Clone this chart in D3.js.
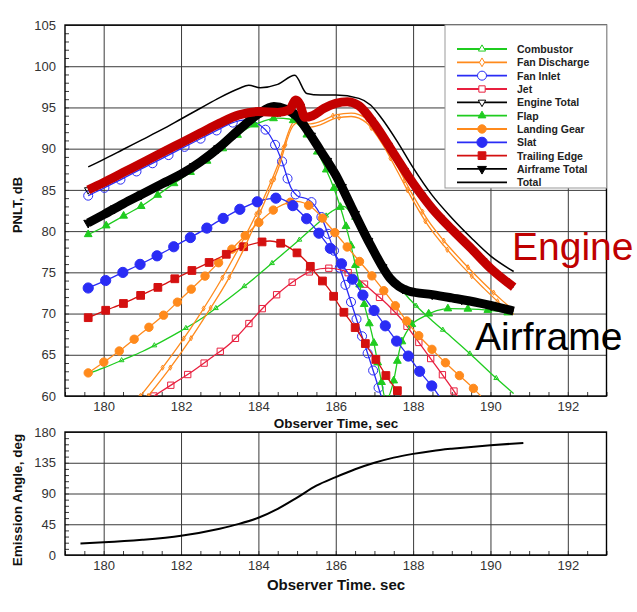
<!DOCTYPE html>
<html>
<head>
<meta charset="utf-8">
<script src="https://cdn.jsdelivr.net/npm/d3@7"></script>
<style>
  body { margin: 0; background: #fff; }
  svg { display: block; font-family: "Liberation Sans", Arial, Helvetica, sans-serif; }
</style>
</head>
<body>
<svg id="chart" width="637" height="612"></svg>
<script>
// [observer time (sec), PNLT (dB)]
const combustor = [[179.6,62.7],[180,63.4],[180.5,64.4],[181,65.4],[181.5,66.6],[182,67.9],[182.5,69.3],[183,71],[183.5,72.8],[184,74.7],[184.5,76.7],[185,78.7],[185.5,80.8],[185.9,82.4],[186.2,83],[186.5,81.4],[186.8,79],[187.3,75.3],[187.9,71.8],[188.5,69.1],[189,67.1],[189.5,65],[190,62.8],[190.6,60.3]];
const fanDischarge = [[180.95,60],[181.5,63.3],[182,66.5],[182.5,70],[183,73.8],[183.5,78],[184,82.6],[184.5,88],[184.9,93.2],[185.1,93.7],[185.3,93],[185.6,93.3],[186,94.1],[186.4,94.3],[186.8,93.6],[187.2,91.2],[187.6,87.8],[188,84.3],[188.4,81.2],[188.8,78.8],[189.3,76.2],[189.8,73.8],[190.3,71.6],[190.6,70.4]];
const fanDischarge2 = [[181.15,60],[181.7,63.3],[182.2,66.6],[182.7,70.2],[183.2,74],[183.6,77.6],[184,81.8],[184.5,87.4],[184.9,92.8],[185.1,93.3],[185.3,92.6],[185.6,92.9],[186,93.7],[186.4,93.9],[186.8,93.1],[187.2,90.6],[187.6,87.2],[188,83.7],[188.4,80.6],[188.8,78.2],[189.3,75.6],[189.8,73.2],[190.3,71],[190.6,69.9]];
const fanInlet = [[179.6,84.3],[180,85.2],[180.5,86.4],[181,87.6],[181.5,88.8],[182,90],[182.5,91.2],[183,92.4],[183.3,93.1],[183.7,93.5],[184,93],[184.3,91.6],[184.6,88.6],[184.85,85.2],[185,84.3],[185.3,83.8],[185.6,82],[185.85,79],[186.2,74.2],[186.6,68.4],[187,62.6],[187.2,59.6]];
const jet = [[181.3,60],[181.8,61.5],[182.3,63],[182.8,64.7],[183.3,66.5],[183.7,68.5],[184,70.1],[184.5,72.4],[185,74.2],[185.4,75.2],[185.8,75.5],[186.2,75.2],[186.6,74.1],[187,72.5],[187.4,70.8],[187.7,69.3],[188.1,66.8],[188.6,63.6],[189.1,60.3],[189.2,59.6]];
const engineTotal = [[179.6,85],[180,85.9],[180.5,87.1],[181,88.3],[181.5,89.5],[182,90.7],[182.5,91.9],[183,93.1],[183.5,94.1],[184,94.5],[184.5,94.4],[184.8,94.7],[184.97,95.9],[185.07,95.4],[185.2,93.8],[185.4,94],[185.7,94.9],[186,95.5],[186.3,95.7],[186.6,95.2],[187,93],[187.5,89.4],[188,85.8],[188.5,82.7],[189,80.2],[189.5,77.9],[190,75.5],[190.6,73.2]];
const flap = [[179.6,79.6],[180,80.5],[180.5,81.8],[181,83.1],[181.7,85.4],[182.2,87],[182.7,88.6],[183.2,90.5],[183.5,91.8],[184,93.1],[184.5,93.7],[184.8,93.6],[185.1,92.6],[185.4,90.6],[185.7,88],[186,84.6],[186.36,78.9],[186.7,71.8],[186.97,66.8],[187.15,62.5],[187.3,59.5],[187.48,61.5],[187.66,65.8],[187.92,68.4],[188.26,69.6],[188.95,70.6],[189.7,70.5],[190.6,70]];
const landingGear = [[179.6,62.8],[180,64.1],[180.5,65.8],[181,67.7],[181.5,69.6],[182,71.8],[182.5,74],[183,76.3],[183.5,78.7],[184,81],[184.5,82.9],[185,83.6],[185.4,82.8],[185.85,80.5],[186.2,78.6],[186.6,76.4],[187,74.2],[187.5,71.2],[188,68.1],[188.5,65.6],[189,63.3],[189.5,61.2],[189.75,60]];
const slat = [[179.6,73.1],[180,73.9],[180.5,75],[181,76.1],[181.5,77.3],[182,78.6],[182.5,79.9],[183,81.3],[183.5,82.6],[184,83.6],[184.5,84],[184.8,83.4],[185.1,82.2],[185.4,80.7],[185.75,78.6],[186.2,75.7],[186.5,73.7],[186.75,71.9],[187.05,70],[187.55,66.8],[187.9,64.7],[188.2,62.8],[188.55,60.8],[188.7,59.8]];
const trailingEdge = [[179.6,69.5],[180,70.3],[180.5,71.2],[181,72.3],[181.5,73.4],[182,74.6],[182.5,75.7],[183,76.8],[183.5,77.9],[184,78.6],[184.3,78.8],[184.8,78],[185.2,76.5],[185.5,74.8],[185.85,72.8],[186.1,70.9],[186.36,69.2],[186.62,67.5],[186.85,65.7],[187.1,64],[187.35,62.1],[187.66,60.2],[187.75,59.5]];
const airframeTotal = [[179.6,81],[180,82],[180.5,83.3],[181,84.5],[181.5,85.7],[182,86.9],[182.5,88.4],[183,90.2],[183.5,92.3],[184,94.2],[184.4,95.1],[184.7,94.8],[185,93.9],[185.3,92],[185.6,89.8],[186,86.8],[186.4,83],[186.9,78.3],[187.4,74.3],[187.9,72.7],[188.5,72.3],[189,71.9],[189.7,71.3],[190.6,70.3]];
const total = [[179.6,87.8],[180,88.7],[180.5,89.9],[181,91.1],[181.5,92.3],[182,93.6],[182.5,94.9],[183,96.2],[183.5,97.3],[183.75,97.7],[184.05,97.4],[184.5,97.8],[184.94,98.9],[185.25,96.7],[185.6,96.5],[186,96.5],[186.6,96.1],[186.9,95.3],[187.2,93.6],[187.6,90.8],[188,87.7],[188.5,84.3],[189,81.6],[189.5,79.2],[190,77],[190.6,75.1]];

// [observer time (sec), emission angle (deg)]
const emission = [[179.4,17],[180,18.5],[181,22.3],[182,28.2],[183,38.5],[183.5,45.5],[184,54.5],[184.5,67.5],[185,84],[185.5,101.5],[186,114],[186.5,125.5],[187,135],[187.5,142.5],[188,148],[188.5,152.3],[189,155.5],[189.5,158.2],[190,160.6],[190.85,164]];

const timeTicks = [180, 182, 184, 186, 188, 190, 192];
const pnltTicks = [60, 65, 70, 75, 80, 85, 90, 95, 100, 105];
const angleTicks = [0, 45, 90, 135, 180];

const GREEN = "#1fcc1f", ORANGE = "#ff8a1c", BLUE = "#2a2cf5", JETRED = "#e8203f";

const series = [
  { name: "Combustor",      data: combustor,     color: GREEN,  sym: d3.symbolTriangle, size: 10, fill: false, step: 36 },
  { name: "Fan Discharge",  data: fanDischarge,  color: ORANGE, sym: d3.symbolDiamond,  size: 8,  fill: false, step: 36 },
  { name: "Fan Inlet",      data: fanInlet,      color: BLUE,   sym: d3.symbolCircle,   size: 64, fill: false, step: 18 },
  { name: "Jet",            data: jet,           color: JETRED, sym: d3.symbolSquare,   size: 40, fill: false, step: 20 },
  { name: "Engine Total",   data: engineTotal,   color: "#000", sym: d3.symbolTriangle, size: 24, fill: false, step: 30, down: true },
  { name: "Flap",           data: flap,          color: GREEN,  sym: d3.symbolTriangle, size: 26, fill: true,  step: 20 },
  { name: "Landing Gear",   data: landingGear,   color: ORANGE, sym: d3.symbolCircle,   size: 55, fill: true,  step: 19 },
  { name: "Slat",           data: slat,          color: BLUE,   sym: d3.symbolCircle,   size: 82, fill: true,  step: 19 },
  { name: "Trailing Edge",  data: trailingEdge,  color: "#d41010", sym: d3.symbolSquare, size: 60, fill: true,  step: 19 },
  { name: "Airframe Total", data: airframeTotal, color: "#000", sym: d3.symbolTriangle, size: 34, fill: true,  step: 30, down: true },
  { name: "Total",          data: total,         color: "#000", sym: null }
];

const svg = d3.select("#chart");
const L = 65, R = 606.5;
const top1 = 25, bot1 = 396, top2 = 432, bot2 = 555;

const x = d3.scaleLinear().domain([179, 193]).range([L, R]);
const y1 = d3.scaleLinear().domain([60, 105]).range([bot1, top1]);
const y2 = d3.scaleLinear().domain([0, 180]).range([bot2, top2]);

function drawAxes(y, top, bot, yTicks, yMinorStep) {
  const g = svg.append("g");
  g.append("g").attr("transform", `translate(${L},0)`)
    .call(d3.axisLeft(y).tickValues(d3.range(y.domain()[0], y.domain()[1] + 0.01, yMinorStep)).tickSize(-4).tickFormat(""));
  g.append("g").attr("transform", `translate(0,${bot})`)
    .call(d3.axisBottom(x).tickValues(d3.range(179, 193.01, 0.5)).tickSize(-4).tickFormat(""));
  g.append("g").attr("transform", `translate(${L},0)`)
    .call(d3.axisLeft(y).tickValues(yTicks).tickSize(-(R - L)).tickPadding(9));
  g.append("g").attr("transform", `translate(0,${bot})`)
    .call(d3.axisBottom(x).tickValues(timeTicks).tickSize(-(bot - top)).tickPadding(6));
  g.selectAll(".domain").remove();
  g.selectAll(".tick line").attr("stroke", "#3a3a3a").attr("stroke-width", 1);
  g.selectAll(".tick text").attr("font-size", 13).attr("fill", "#333");
  svg.append("rect").attr("x", L).attr("y", top).attr("width", R - L).attr("height", bot - top)
    .attr("fill", "none").attr("stroke", "#000").attr("stroke-width", 1.4);
}

drawAxes(y1, top1, bot1, pnltTicks, 1);
drawAxes(y2, top2, bot2, angleTicks, 9);

svg.append("clipPath").attr("id", "clip1").append("rect")
  .attr("x", L).attr("y", top1).attr("width", R - L).attr("height", bot1 - top1);

const line1 = d3.line().x(d => x(d[0])).y(d => y1(d[1])).curve(d3.curveMonotoneX);
const plot = svg.append("g").attr("clip-path", "url(#clip1)");

function symbolPath(s) {
  return d3.symbol().type(s.sym).size(s.size)();
}

function drawSeries(s, data) {
  const path = plot.append("path").datum(data)
    .attr("fill", "none").attr("stroke", s.color).attr("stroke-width", 1.3)
    .attr("d", line1);
  if (!s.sym) return;
  const node = path.node();
  const len = node.getTotalLength();
  const pts = d3.range(0, len, s.step).map(l => node.getPointAtLength(l));
  plot.append("g").selectAll("path").data(pts).join("path")
    .attr("d", symbolPath(s))
    .attr("transform", p => `translate(${p.x},${p.y})${s.down ? " rotate(180)" : ""}`)
    .attr("fill", s.fill ? s.color : "none")
    .attr("stroke", s.color).attr("stroke-width", 1);
}

series.slice(0, 10).forEach(s => drawSeries(s, s.data));
drawSeries(series[1], fanDischarge2);

// highlighted totals
plot.append("path").datum(airframeTotal)
  .attr("fill", "none").attr("stroke", "#000").attr("stroke-width", 9).attr("d", line1);
plot.append("path").datum(engineTotal)
  .attr("fill", "none").attr("stroke", "#c40000").attr("stroke-width", 9).attr("d", line1);
plot.append("path").datum(total)
  .attr("fill", "none").attr("stroke", "#000").attr("stroke-width", 1.5).attr("d", line1);

// emission angle
const line2 = d3.line().x(d => x(d[0])).y(d => y2(d[1])).curve(d3.curveMonotoneX);
svg.append("path").datum(emission)
  .attr("fill", "none").attr("stroke", "#000").attr("stroke-width", 2).attr("d", line2);

// legend
const leg = svg.append("g");
leg.append("rect").attr("x", 445).attr("y", top1).attr("width", R - 445).attr("height", 163)
  .attr("fill", "#fff").attr("stroke", "#999").attr("stroke-width", 1);
series.forEach((s, i) => {
  const yy = 49 + i * 13.33;
  leg.append("line").attr("x1", 457).attr("x2", 507).attr("y1", yy).attr("y2", yy)
    .attr("stroke", s.color).attr("stroke-width", 1.8);
  if (s.sym) {
    const big = Object.assign({}, s, { size: Math.max(s.size, 22) });
    leg.append("path").attr("d", symbolPath(big))
      .attr("transform", `translate(482,${yy})${s.down ? " rotate(180)" : ""}`)
      .attr("fill", s.fill ? s.color : "#fff").attr("stroke", s.color).attr("stroke-width", 1);
  }
  leg.append("text").attr("x", 517).attr("y", yy + 4).attr("font-size", 10.5)
    .attr("font-weight", "bold").attr("fill", "#222").text(s.name);
});

// axis titles
svg.append("text").attr("transform", "translate(22,205) rotate(-90)").attr("text-anchor", "middle")
  .attr("font-size", 13).attr("font-weight", "bold").attr("fill", "#111").text("PNLT, dB");
svg.append("text").attr("transform", "translate(22,500) rotate(-90)").attr("text-anchor", "middle")
  .attr("font-size", 13.5).attr("font-weight", "bold").attr("fill", "#111").text("Emission Angle, deg");
svg.append("text").attr("x", 336).attr("y", 428).attr("text-anchor", "middle")
  .attr("font-size", 13.5).attr("font-weight", "bold").attr("fill", "#111").text("Observer Time, sec");
svg.append("text").attr("x", 336).attr("y", 590).attr("text-anchor", "middle")
  .attr("font-size", 15).attr("font-weight", "bold").attr("fill", "#111").text("Observer Time. sec");

// annotations
svg.append("text").attr("x", 512).attr("y", 260).attr("font-size", 39)
  .attr("fill", "#bf0000").text("Engine");
svg.append("text").attr("x", 475).attr("y", 350).attr("font-size", 39)
  .attr("fill", "#000").text("Airframe");
</script>
</body>
</html>
